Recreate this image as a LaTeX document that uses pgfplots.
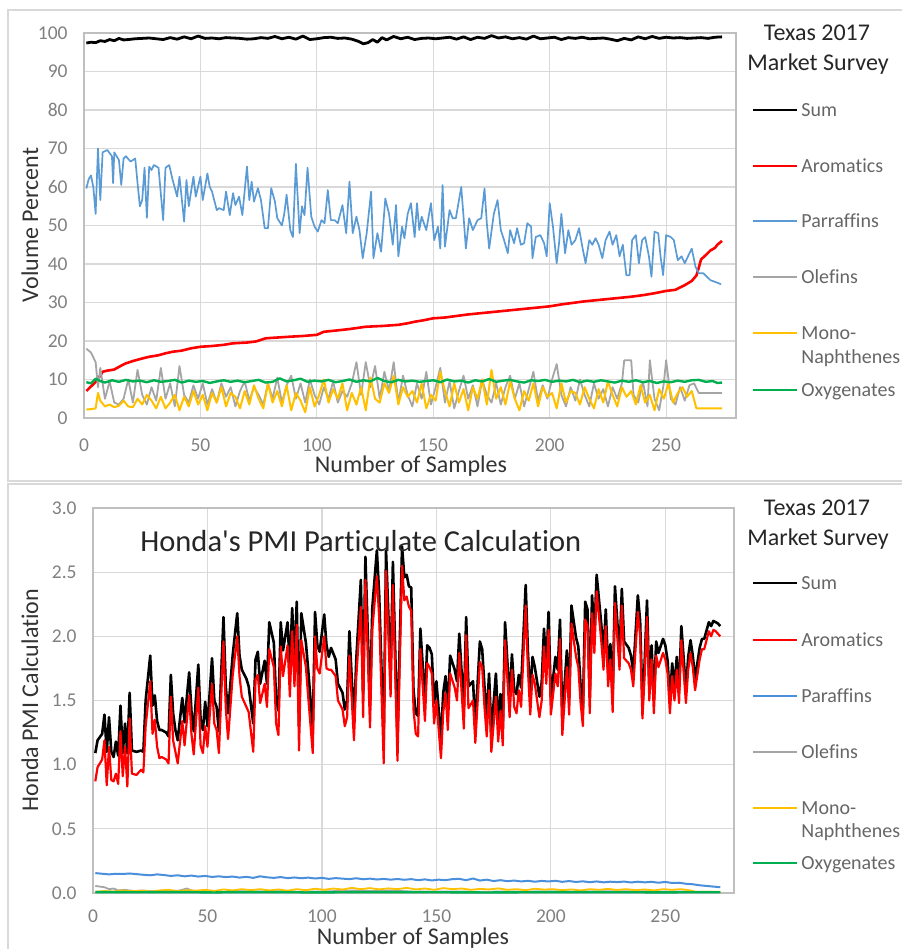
\documentclass[border=0pt]{standalone}
\usepackage{fontspec}
\setmainfont{Carlito}[Ligatures=CommonOff]
\usepackage{pgfplots}
\pgfplotsset{compat=1.18}
\definecolor{cblue}{HTML}{5B9BD5}
\definecolor{cblue2}{HTML}{4A8FDB}
\definecolor{cgrey}{HTML}{A5A5A5}
\definecolor{cyellow}{HTML}{FFC000}
\definecolor{cgreen}{HTML}{00B050}
\definecolor{gridc}{HTML}{D9D9D9}
\definecolor{borderc}{HTML}{BFBFBF}
\definecolor{framec}{HTML}{D9D9D9}
\definecolor{tickc}{HTML}{808080}
\definecolor{labc}{HTML}{333333}
\definecolor{legc}{HTML}{666666}
\definecolor{titc}{HTML}{262626}
\pgfplotsset{panel/.style={
  scale only axis, grid=major,
  grid style={draw=gridc, line width=0.6pt},
  axis line style={draw=borderc, line width=0.6pt},
  major tick length=0pt, tick style={draw=none},
  xmin=0, xmax=280, xtick={0,50,100,150,200,250},
  /pgf/number format/assume math mode=true,
  tick label style={font=\fontsize{9.75}{11}\selectfont, text=tickc, inner sep=0pt},
  xticklabel style={anchor=center, yshift=-13.5pt},
  yticklabel style={anchor=east, xshift=-8pt},
}}
\tikzset{leg/.style={anchor=west, inner sep=0pt, text height=6.5pt, text depth=0pt, text=legc, font=\fontsize{10}{12}\selectfont},
  legt/.style={anchor=center, inner sep=0pt, text height=8pt, text depth=0pt, text=titc, font=\fontsize{12}{14}\selectfont},
  axt/.style={anchor=center, inner sep=0pt, text=labc, font=\fontsize{12}{14}\selectfont}}
\begin{document}
\begin{tikzpicture}
\path[use as bounding box] (0,0) rectangle (451pt,474.5pt);
\draw[draw=framec, line width=0.8pt] (451pt,469.5pt) -- (4pt,469.5pt) -- (4pt,234pt) -- (451pt,234pt);
\draw[draw=framec, line width=0.8pt] (451pt,232.5pt) -- (4pt,232.5pt) -- (4pt,0pt);
% ---------------- top panel
\begin{axis}[panel, at={(42pt,265.5pt)}, anchor=south west, width=326pt, height=192.5pt,
  ymin=0, ymax=100, ytick={0,10,20,30,40,50,60,70,80,90,100}]
\addplot[black, line width=1.4pt, line join=round, mark=none] coordinates {
(1,97.4)(3,97.6)(5,97.5)(7,98.0)(9,97.8)(11,98.3)(13,98.0)(15,98.6)(17,98.2)(19,98.3)(22,98.5)(25,98.6)(28,98.7)(31,98.5)(34,98.3)(37,98.8)(40,98.4)(43,99.0)(46,98.5)(49,99.2)(52,98.6)(55,98.7)(58,98.5)(61,98.8)(64,98.7)(67,98.6)(70,98.4)(73,98.5)(76,98.8)(79,98.6)(82,99.1)(85,98.5)(88,98.9)(91,98.4)(94,99.2)(97,98.3)(100,98.5)(103,98.8)(106,98.9)(109,98.6)(112,98.7)(115,98.4)(118,97.8)(120,97.2)(122,97.5)(124,98.3)(126,97.6)(128,98.8)(130,98.2)(133,99.1)(136,98.5)(139,98.9)(142,98.3)(145,98.6)(148,98.7)(151,98.5)(154,98.7)(157,98.9)(160,98.4)(163,99.0)(166,98.3)(169,98.9)(172,98.6)(175,99.3)(178,98.7)(181,99.0)(184,98.5)(187,98.8)(190,98.4)(193,99.2)(196,98.5)(199,98.7)(202,98.9)(205,98.3)(208,98.8)(211,98.6)(214,98.9)(217,98.5)(220,98.6)(223,98.7)(226,98.4)(229,98.0)(232,98.6)(235,98.2)(238,99.0)(241,98.5)(244,99.1)(247,98.6)(250,98.9)(253,98.7)(256,98.8)(259,98.6)(262,98.7)(265,98.8)(268,98.6)(271,98.9)(274,99.0)};
\addplot[red, line width=1.3pt, line join=round, mark=none] coordinates {
(1,7.0)(3,8.2)(5,9.4)(7,11.0)(8,12.0)(10,12.3)(13,12.6)(16,13.6)(18,14.2)(21,14.8)(24,15.3)(28,15.9)(32,16.3)(35,16.8)(38,17.2)(42,17.5)(46,18.1)(50,18.5)(55,18.7)(60,19.0)(64,19.4)(70,19.6)(74,19.9)(78,20.7)(83,20.9)(88,21.1)(94,21.3)(100,21.6)(103,22.4)(108,22.7)(114,23.1)(121,23.7)(128,23.9)(135,24.2)(139,24.6)(142,25.0)(146,25.4)(150,25.9)(155,26.1)(160,26.5)(165,26.9)(170,27.2)(175,27.5)(180,27.8)(185,28.1)(190,28.4)(195,28.7)(200,29.0)(205,29.5)(210,29.9)(215,30.3)(220,30.6)(225,30.9)(230,31.2)(235,31.5)(240,31.9)(245,32.4)(250,33.0)(254,33.3)(258,34.5)(261,35.6)(263,37.0)(264,39.0)(265,41.2)(267,42.3)(269,43.5)(271,44.2)(272,45.0)(274,46.0)};
\addplot[cblue, line width=0.85pt, line join=round, mark=none] coordinates {
(1,59.6)(2,62)(3,63)(4,60)(5,53)(6,70)(7,56.6)(8,69)(10,69.6)(12,68)(12.5,61)(13,69)(15,67)(16,60.5)(17,67.4)(18,68)(20,66.6)(21,67)(22,67.4)(23,61)(24,55)(25,56.6)(26,65)(27,52)(28,65.3)(29,64.4)(30,65.7)(32,65)(34,51.4)(35,65)(36.6,65.7)(38,62)(40,57.5)(41,62.7)(43,51)(44,61.8)(45,55)(47,62.7)(48,57.5)(50,62.7)(51,56.6)(53,63.5)(54,60)(55,58.8)(57,54)(58,54.5)(60,54)(61,58.8)(62.6,52.7)(64,58.4)(65,55.3)(66.6,57.5)(68,52.7)(70,65.3)(71,56.6)(72,61.4)(73,56.2)(74.7,59.7)(76,56.6)(77.6,49.3)(79,49.3)(80.4,59.7)(82,56.2)(83,51.9)(85,50)(86,53)(87,58)(88.6,48.8)(89.7,47)(91,66)(92.6,48)(93.6,55)(94.7,52.7)(96,65)(97.6,52.3)(99,49.7)(100.4,48.4)(102,51.4)(103.3,50.6)(104.7,59.2)(106,51.4)(107.6,51.4)(109,50.6)(111,55.3)(112.6,48)(114,61.4)(115.4,48)(117,52.3)(118.3,48.8)(119.7,41.5)(121.4,48)(123.3,58.8)(124.3,41.5)(126,48)(127.6,43.2)(129.4,57)(131,53)(132.6,45)(134,55.3)(135,42)(136.6,49.7)(137.6,46.7)(139,53)(140.4,55.8)(142,47)(143,55.8)(144,48.8)(145,52.3)(147,48.8)(149,55.8)(150.4,46.2)(152,49.7)(153,44)(154,60.5)(155,44.5)(157,54)(158.3,51.9)(159.7,51.9)(162,60)(163,52.3)(164,44)(165.4,51.9)(167,48.8)(169,51.4)(170.6,51.9)(172,59.6)(173,50.6)(174,44)(176,53)(177.6,56.6)(179,48.8)(180.4,46.2)(182,42.8)(183,48.8)(184.7,45.4)(186,49.3)(187.6,45)(189,45.4)(190.4,50.6)(192,49.7)(192.6,41.5)(194,47)(196,47.5)(197.6,45.4)(198.7,42)(200,55.8)(201.4,49.7)(203,40.2)(204,45.4)(205,53)(206.6,42.8)(208,48.8)(209.4,45)(211,46.2)(212.6,49.3)(214,44.5)(215.4,40.2)(217,46.2)(218.3,45)(219.7,46.7)(221,45)(222.6,41.5)(224,46.2)(225.7,48.4)(227,45)(228.6,47.5)(230,42)(231.4,45)(232.9,37.1)(234.3,37.1)(235.4,46.2)(237,47.5)(238.3,40.2)(239.7,46.2)(241,47)(242.6,42)(243.7,36.7)(245,48.4)(246.6,48)(247.6,42)(248.7,37.1)(250,47.5)(252,47)(253.3,46.2)(255,41)(256.6,42)(258,40.2)(259.4,42)(261,44)(262.6,39.3)(264,37.6)(266,37.6)(269,35.8)(272.6,35)(273.6,34.7)};
\addplot[cgrey, line width=0.9pt, line join=round, mark=none] coordinates {
(1,18)(3,17)(5,14.5)(6,8)(7,13)(9,5)(11,9.5)(13,4)(15,3.5)(17,5)(19,10)(21,4)(23,12.5)(25,6)(27,3.5)(29,8)(31,4.5)(33,13)(35,5)(37,9)(39,3)(41,13.5)(43,6)(45,4)(47,8.5)(49,5)(51,9)(53,3.5)(55,7.5)(57,4)(59,9)(61,5.5)(63,8)(65,3)(67,7)(69,9.5)(71,4.5)(73,8)(75,6)(77,3.5)(79,9)(81,5)(83,10.5)(85,4)(87,8.5)(89,11)(91,5)(93,9)(95,4)(97,10)(99,6)(101,3.5)(103,8)(105,5)(107,9.5)(109,4)(111,7)(113,5.5)(115,9)(117,14.5)(119,6)(121,14.5)(123,8)(125,13.5)(127,5)(129,12)(131,7)(133,14.5)(135,4)(137,11)(139,6)(141,3)(143,9)(145,5)(147,12)(149,3.5)(151,8)(153,13)(155,4)(157,9.5)(159,2.5)(161,7)(163,11)(165,5)(167,8.5)(169,3)(171,10)(173,6)(175,4)(177,9)(179,3.5)(181,8)(183,11)(185,5)(187,9)(189,3)(191,7.5)(193,12)(195,4.5)(197,8.5)(199,5)(201,10)(203,14)(205,6)(207,3)(209,8)(211,4.5)(213,10)(215,6)(217,3)(219,9)(221,5)(223,7.5)(225,3)(227,8)(229,5)(231,9)(232,15)(235,15)(236,6)(238,4)(240,9.5)(242,3)(243,15)(245,5)(247,2)(249,9)(250,15)(252,5)(254,3.5)(256,8)(258,4.5)(260,8.5)(262,9)(264,6.5)(274,6.5)};
\addplot[cyellow, line width=1pt, line join=round, mark=none] coordinates {
(1,2.2)(3,2.3)(5,2.5)(6,6.5)(7,4.5)(9,3)(11,3.5)(13,2.8)(15,3.2)(17,4.5)(19,3)(21,2.8)(23,5)(25,3.5)(27,6)(29,4.5)(31,2.5)(33,5.5)(35,2.5)(37,4)(39,6)(41,2)(43,5.5)(45,3)(47,7)(49,3.5)(51,6)(53,2)(55,6.5)(57,4)(59,8)(61,3)(63,6.5)(65,5.5)(67,2.5)(69,7)(71,3.5)(73,8.5)(75,5)(77,2.5)(79,9)(81,4)(83,7)(85,3)(87,8.5)(89,2)(91,6.5)(93,4.5)(95,1.5)(97,8)(99,3)(101,6)(103,10)(105,4)(107,7.5)(109,5)(111,9)(113,2)(115,6.5)(117,3.5)(119,8)(121,2)(123,10.5)(125,5)(127,4)(129,9)(131,6.5)(133,11)(135,3.5)(137,8)(139,5.5)(141,7)(143,4)(145,9)(147,2.5)(149,6)(151,4.5)(153,12)(155,7)(157,3)(159,9)(161,4)(163,7.5)(165,2)(167,8)(169,5)(171,10)(173,3.5)(175,12.5)(177,5)(179,8)(181,3.5)(183,9.5)(185,5)(187,2)(189,7)(191,4.5)(193,9)(195,3)(197,8)(199,5.5)(201,6.5)(203,2.5)(205,9)(207,4)(209,7)(211,6.5)(213,3.5)(215,8)(217,5)(219,2.5)(221,7.5)(223,4)(225,9.5)(227,6)(229,3)(231,8)(233,5.5)(235,7)(237,3.5)(239,8.5)(241,4)(243,6)(245,2)(247,7.5)(249,5)(251,9)(253,4)(255,6.5)(257,8)(259,5.5)(261,7)(263,2.5)(274,2.5)};
\addplot[cgreen, line width=1.2pt, line join=round, mark=none] coordinates {
(1,9.3)(3,9.0)(5,10.2)(7,9.6)(9,9.2)(12,9.8)(15,9.4)(18,9.9)(21,9.5)(24,9.7)(27,9.3)(30,9.8)(33,9.4)(36,9.6)(39,9.9)(42,9.2)(45,9.7)(48,9.4)(51,9.6)(54,9.1)(57,9.5)(60,9.8)(63,9.4)(66,9.7)(69,9.3)(72,9.6)(75,9.9)(78,9.2)(81,9.4)(84,10.3)(87,9.5)(90,9.8)(93,10.2)(96,9.4)(99,9.7)(102,9.5)(105,9.9)(108,9.3)(111,9.6)(114,10.0)(117,9.4)(120,9.8)(123,9.5)(126,10.4)(129,9.6)(132,9.3)(135,9.9)(138,9.5)(141,9.7)(144,9.4)(147,9.6)(150,9.8)(153,9.3)(156,10.0)(159,9.5)(162,9.7)(165,9.2)(168,9.8)(171,9.5)(174,10.1)(177,9.4)(180,9.7)(183,9.9)(186,9.5)(189,9.2)(192,9.8)(195,9.6)(198,9.9)(201,9.4)(204,9.7)(207,9.5)(210,9.9)(213,9.3)(216,9.7)(219,9.4)(222,9.8)(225,9.5)(228,9.2)(231,9.7)(234,9.4)(237,9.8)(240,9.3)(243,9.6)(246,9.1)(249,9.5)(252,9.3)(255,9.7)(258,9.4)(261,9.8)(264,9.9)(267,9.4)(270,9.6)(272,9.1)(274,9.2)};
\end{axis}
% ---------------- bottom panel
\begin{axis}[panel, at={(46.5pt,28pt)}, anchor=south west, width=320.5pt, height=192.5pt,
  ymin=0, ymax=3, ytick={0,0.5,1,1.5,2,2.5,3}, clip=false,
  xticklabel style={yshift=2pt},
  yticklabel style={/pgf/number format/.cd, fixed, fixed zerofill, precision=1}]
\addplot[black, line width=1.3pt, line join=round, mark=none] coordinates {
(1,1.09)(2,1.19)(4,1.24)(5,1.39)(6,1.10)(7,1.37)(8,1.10)(9,1.06)(10,1.18)(11,1.07)(12,1.46)(13,1.09)(14,1.32)(15,1.09)(16,1.56)(17,1.11)(19,1.10)(21,1.11)(22,1.10)(23,1.50)(25,1.85)(26,1.46)(27,1.54)(28,1.34)(29,1.27)(30,1.27)(32,1.25)(33,1.22)(34,1.70)(35,1.40)(36,1.27)(37,1.19)(39,1.52)(40,1.33)(42,1.72)(43,1.42)(44,1.26)(46,1.78)(47,1.35)(48,1.27)(49,1.49)(50,1.30)(52,1.83)(53,1.50)(54,1.45)(55,1.26)(57,2.15)(58,1.61)(59,1.40)(61,1.85)(63,2.18)(64,1.85)(65,1.74)(67,1.67)(68,1.61)(70,1.32)(71,1.82)(72,1.88)(73,1.63)(75,1.81)(76,1.63)(77,2.11)(79,1.95)(80,1.50)(81,1.42)(82,2.11)(83,1.89)(85,2.11)(86,1.74)(87,2.22)(88,1.80)(89,2.27)(90,1.30)(91,2.18)(93,1.95)(94,1.74)(96,1.28)(97,2.19)(98,1.93)(99,1.88)(101,2.17)(102,1.93)(103,1.84)(104,1.91)(106,1.82)(107,1.63)(109,1.56)(110,1.43)(111,1.50)(112,2.04)(114,1.32)(115,1.82)(117,2.44)(118,1.55)(119,2.62)(121,1.46)(122,2.22)(124,2.67)(125,2.33)(127,1.19)(128,2.67)(130,1.70)(131,2.58)(133,1.21)(135,2.70)(136,2.46)(137,2.48)(138,2.39)(139,2.38)(140,1.58)(141,1.40)(142,1.38)(143,2.06)(145,1.50)(146,1.93)(147,1.91)(148,1.86)(149,1.48)(150,1.65)(152,1.20)(153,1.56)(154,1.69)(155,1.43)(156,1.85)(158,1.74)(159,1.65)(160,2.02)(162,1.43)(163,2.15)(164,1.61)(166,1.65)(167,1.30)(169,1.96)(170,1.90)(171,1.61)(172,1.36)(173,1.71)(174,1.25)(176,1.71)(177,1.32)(178,1.55)(179,1.28)(180,2.11)(182,1.50)(183,1.86)(184,1.58)(185,1.55)(186,1.70)(187,1.60)(189,2.40)(190,1.87)(191,1.54)(192,1.84)(193,1.76)(195,1.53)(196,1.64)(197,2.06)(198,1.76)(199,2.19)(200,1.51)(202,1.84)(203,1.74)(204,2.13)(205,1.36)(207,1.89)(208,1.51)(209,2.24)(211,1.99)(212,1.92)(213,1.61)(214,1.43)(215,2.27)(216,2.21)(217,1.52)(218,2.32)(219,2.01)(220,2.48)(222,2.10)(223,1.86)(224,2.21)(225,1.74)(226,1.94)(227,1.53)(228,2.39)(230,1.85)(231,2.37)(232,1.96)(234,1.91)(235,1.85)(236,1.72)(238,2.32)(239,2.12)(240,1.47)(241,1.81)(242,2.28)(243,1.61)(244,1.93)(245,1.50)(246,1.96)(247,1.87)(249,1.98)(250,1.93)(251,1.81)(252,1.50)(253,1.79)(254,1.60)(255,1.84)(256,1.58)(257,2.08)(259,1.58)(260,1.84)(261,1.97)(262,1.85)(263,1.67)(265,1.91)(266,1.98)(267,1.98)(269,2.11)(270,2.08)(271,2.12)(272,2.11)(273,2.10)(274,2.08)};
\addplot[red, line width=1.1pt, line join=round, mark=none] coordinates {
(1,0.87)(2,0.98)(4,1.04)(5,1.19)(6,0.84)(7,1.14)(8,0.88)(9,0.87)(10,0.93)(11,0.85)(12,1.26)(13,0.91)(14,1.14)(15,0.83)(16,1.36)(17,0.93)(19,0.92)(21,0.96)(22,0.94)(23,1.30)(25,1.65)(26,1.24)(27,1.35)(28,1.14)(29,1.05)(30,1.06)(32,1.04)(33,1.01)(34,1.53)(35,1.19)(36,1.10)(37,1.01)(39,1.34)(40,1.15)(42,1.54)(43,1.24)(44,1.08)(46,1.60)(47,1.15)(48,1.09)(49,1.30)(50,1.14)(52,1.63)(53,1.32)(54,1.27)(55,1.09)(57,1.96)(58,1.44)(59,1.20)(61,1.69)(63,2.00)(64,1.69)(65,1.53)(67,1.45)(68,1.41)(70,1.10)(71,1.66)(72,1.70)(73,1.48)(75,1.63)(76,1.45)(77,1.90)(79,1.76)(80,1.32)(81,1.23)(82,1.92)(83,1.69)(85,1.93)(86,1.53)(87,2.04)(88,1.61)(89,2.09)(90,1.11)(91,1.97)(93,1.76)(94,1.53)(96,1.09)(97,2.00)(98,1.75)(99,1.71)(101,2.00)(102,1.75)(103,1.74)(104,1.74)(106,1.69)(107,1.50)(109,1.43)(110,1.30)(111,1.37)(112,1.85)(114,1.19)(115,1.68)(117,2.23)(118,1.37)(119,2.44)(121,1.29)(122,2.05)(124,2.47)(125,2.15)(127,1.01)(128,2.51)(130,1.53)(131,2.40)(133,1.03)(135,2.55)(136,2.28)(137,2.31)(138,2.23)(139,2.20)(140,1.43)(141,1.24)(142,1.22)(143,1.90)(145,1.34)(146,1.79)(147,1.76)(148,1.71)(149,1.32)(150,1.50)(152,1.05)(153,1.41)(154,1.56)(155,1.27)(156,1.71)(158,1.60)(159,1.50)(160,1.87)(162,1.28)(163,2.01)(164,1.44)(166,1.50)(167,1.17)(169,1.80)(170,1.76)(171,1.45)(172,1.22)(173,1.58)(174,1.10)(176,1.53)(177,1.18)(178,1.42)(179,1.15)(180,1.97)(182,1.37)(183,1.74)(184,1.45)(185,1.40)(186,1.58)(187,1.45)(189,2.24)(190,1.74)(191,1.39)(192,1.70)(193,1.63)(195,1.37)(196,1.50)(197,1.92)(198,1.63)(199,2.05)(200,1.39)(202,1.71)(203,1.61)(204,1.98)(205,1.23)(207,1.76)(208,1.39)(209,2.10)(211,1.84)(212,1.76)(213,1.48)(214,1.30)(215,2.13)(216,2.08)(217,1.40)(218,2.18)(219,1.87)(220,2.35)(222,1.97)(223,1.74)(224,2.08)(225,1.61)(226,1.82)(227,1.41)(228,2.26)(230,1.74)(231,2.24)(232,1.83)(234,1.79)(235,1.74)(236,1.61)(238,2.19)(239,2.00)(240,1.36)(241,1.70)(242,2.15)(243,1.50)(244,1.82)(245,1.40)(246,1.85)(247,1.76)(249,1.87)(250,1.82)(251,1.71)(252,1.40)(253,1.69)(254,1.50)(255,1.74)(256,1.48)(257,1.97)(259,1.48)(260,1.74)(261,1.87)(262,1.76)(263,1.58)(265,1.82)(266,1.90)(267,1.90)(269,2.04)(270,2.00)(271,2.05)(272,2.04)(273,2.02)(274,2.00)};
\addplot[cblue2, line width=1pt, line join=round, mark=none] coordinates {
(1,0.155)(4,0.15)(7,0.145)(10,0.15)(13,0.148)(16,0.152)(19,0.147)(22,0.142)(25,0.138)(28,0.145)(31,0.14)(34,0.133)(37,0.138)(40,0.13)(43,0.136)(46,0.128)(49,0.133)(52,0.125)(55,0.13)(58,0.124)(61,0.128)(64,0.12)(67,0.126)(70,0.118)(73,0.13)(76,0.122)(79,0.118)(82,0.124)(85,0.116)(88,0.121)(91,0.115)(94,0.12)(97,0.113)(100,0.118)(103,0.11)(106,0.116)(109,0.112)(112,0.108)(115,0.115)(118,0.107)(121,0.112)(124,0.105)(127,0.11)(130,0.104)(133,0.109)(136,0.103)(139,0.108)(142,0.1)(145,0.106)(148,0.098)(151,0.104)(154,0.1)(157,0.108)(160,0.11)(163,0.1)(166,0.113)(169,0.097)(172,0.104)(175,0.093)(178,0.1)(181,0.092)(184,0.097)(187,0.09)(190,0.095)(193,0.088)(196,0.094)(199,0.09)(202,0.095)(205,0.087)(208,0.093)(211,0.086)(214,0.091)(217,0.084)(220,0.09)(223,0.083)(226,0.088)(229,0.085)(232,0.089)(235,0.082)(238,0.088)(241,0.083)(244,0.087)(247,0.08)(250,0.086)(253,0.078)(256,0.08)(259,0.072)(262,0.068)(265,0.06)(268,0.055)(271,0.05)(274,0.045)};
\addplot[cgrey, line width=0.9pt, line join=round, mark=none] coordinates {
(1,0.055)(3,0.05)(5,0.045)(7,0.03)(9,0.035)(11,0.02)(14,0.025)(18,0.015)(22,0.02)(26,0.012)(30,0.018)(34,0.01)(38,0.02)(41,0.035)(43,0.02)(47,0.012)(52,0.018)(57,0.01)(62,0.015)(70,0.01)(80,0.014)(90,0.01)(100,0.012)(115,0.02)(122,0.015)(130,0.02)(140,0.01)(150,0.012)(170,0.01)(190,0.012)(210,0.01)(230,0.014)(250,0.012)(262,0.01)(274,0.008)};
\addplot[cyellow, line width=0.9pt, line join=round, mark=none] coordinates {
(1,0.01)(5,0.015)(9,0.012)(13,0.02)(17,0.014)(21,0.018)(25,0.012)(29,0.02)(33,0.025)(37,0.015)(41,0.022)(45,0.018)(49,0.025)(53,0.015)(57,0.028)(61,0.02)(65,0.03)(69,0.022)(73,0.03)(77,0.02)(81,0.028)(85,0.018)(89,0.03)(93,0.022)(97,0.033)(101,0.025)(105,0.035)(109,0.027)(113,0.04)(117,0.03)(121,0.038)(125,0.028)(129,0.036)(133,0.03)(137,0.04)(141,0.028)(145,0.035)(149,0.025)(153,0.038)(157,0.03)(161,0.035)(165,0.025)(169,0.032)(173,0.028)(177,0.036)(181,0.025)(185,0.03)(189,0.022)(193,0.033)(197,0.027)(201,0.03)(205,0.022)(209,0.028)(213,0.02)(217,0.03)(221,0.025)(225,0.032)(229,0.024)(233,0.03)(237,0.022)(241,0.028)(245,0.02)(249,0.03)(253,0.025)(257,0.03)(261,0.02)(263,0.01)(274,0.01)};
\addplot[cgreen, line width=1.2pt, line join=round, mark=none] coordinates {
(1,0.007)(20,0.006)(40,0.007)(53,0.004)(60,0.007)(90,0.006)(92,0.004)(120,0.007)(150,0.006)(172,0.004)(200,0.007)(230,0.006)(250,0.005)(262,0.006)(274,0.006)};
\end{axis}
% ---------------- texts
\node[axt, rotate=90] at (15pt,362pt) {Volume Percent};
\node[axt] at (205.5pt,241.5pt) {Number of Samples};
\node[axt, rotate=90] at (15pt,124.5pt) {Honda PMI Calculation};
\node[axt] at (206.5pt,5.6pt) {Number of Samples};
\node[anchor=west, inner sep=0pt, text height=10pt, text depth=0pt, text=titc, font=\fontsize{15.25}{18}\selectfont] at (70pt,203.5pt) {Honda\textquotesingle s PMI Particulate Calculation};
% legend top
\node[legt] at (408.5pt,458pt) {Texas 2017};
\node[legt] at (409pt,443pt) {Market Survey};
\draw[black, line width=1.3pt] (376.5pt,419.5pt) -- (398.5pt,419.5pt); \node[leg] at (400.5pt,419.5pt) {Sum};
\draw[red, line width=1.3pt] (376.5pt,391.5pt) -- (398.5pt,391.5pt); \node[leg] at (400.5pt,391.5pt) {Aromatics};
\draw[cblue, line width=1pt] (376.5pt,364pt) -- (398.5pt,364pt); \node[leg] at (400.5pt,364pt) {Parraffins};
\draw[cgrey, line width=1pt] (376.5pt,336pt) -- (398.5pt,336pt); \node[leg] at (400.5pt,336pt) {Olefins};
\draw[cyellow, line width=1pt] (376.5pt,308pt) -- (398.5pt,308pt); \node[leg] at (400.5pt,308pt) {Mono-}; \node[leg] at (400.5pt,296pt) {Naphthenes};
\draw[cgreen, line width=1.2pt] (376.5pt,279.5pt) -- (398.5pt,279.5pt); \node[leg] at (400.5pt,279.5pt) {Oxygenates};
% legend bottom
\node[legt] at (408.5pt,220.5pt) {Texas 2017};
\node[legt] at (409pt,205.5pt) {Market Survey};
\draw[black, line width=1.3pt] (376.5pt,183pt) -- (398.5pt,183pt); \node[leg] at (400.5pt,183pt) {Sum};
\draw[red, line width=1.3pt] (376.5pt,154.5pt) -- (398.5pt,154.5pt); \node[leg] at (400.5pt,154.5pt) {Aromatics};
\draw[cblue2, line width=1pt] (376.5pt,126.5pt) -- (398.5pt,126.5pt); \node[leg] at (400.5pt,126.5pt) {Paraffins};
\draw[cgrey, line width=1pt] (376.5pt,98.5pt) -- (398.5pt,98.5pt); \node[leg] at (400.5pt,98.5pt) {Olefins};
\draw[cyellow, line width=1pt] (376.5pt,70.5pt) -- (398.5pt,70.5pt); \node[leg] at (400.5pt,70.5pt) {Mono-}; \node[leg] at (400.5pt,59pt) {Naphthenes};
\draw[cgreen, line width=1.2pt] (376.5pt,43pt) -- (398.5pt,43pt); \node[leg] at (400.5pt,43pt) {Oxygenates};
\end{tikzpicture}
\end{document}
